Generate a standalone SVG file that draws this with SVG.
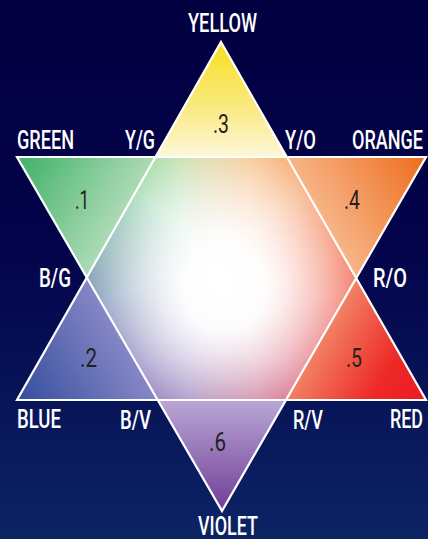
<svg xmlns="http://www.w3.org/2000/svg" width="428" height="539" viewBox="0 0 428 539">
<defs>
<style>
.lbl{font-family:Roboto,"Liberation Sans",sans-serif;font-size:25px;fill:#ffffff;font-weight:500}
.num{font-family:Roboto,"Liberation Sans",sans-serif;font-size:25px;fill:#231f20}
.edge{fill:none;stroke:#ffffff;stroke-width:2.2;stroke-linejoin:miter}
</style>
<linearGradient id="bg" x1="0" y1="0" x2="0" y2="1">
<stop offset="0" stop-color="#020040"/>
<stop offset="0.45" stop-color="#03034a"/>
<stop offset="1" stop-color="#0c2464"/>
</linearGradient>
<clipPath id="hexClip">
<polygon points="155.5,157 286.5,157 356,278 286.5,400 157.5,400 87,278"/>
</clipPath>
<linearGradient id="tY" gradientUnits="userSpaceOnUse" x1="221" y1="50" x2="221" y2="157">
<stop offset="0" stop-color="#f8e02c"/>
<stop offset="0.5" stop-color="#f9e97a"/>
<stop offset="1" stop-color="#fdf7da"/>
</linearGradient>
<linearGradient id="tG" gradientUnits="userSpaceOnUse" x1="22" y1="160" x2="128" y2="222">
<stop offset="0" stop-color="#44b36b"/>
<stop offset="1" stop-color="#b4ddbb"/>
</linearGradient>
<linearGradient id="tO" gradientUnits="userSpaceOnUse" x1="421" y1="160" x2="315" y2="222">
<stop offset="0" stop-color="#ee7021"/>
<stop offset="1" stop-color="#f7b98e"/>
</linearGradient>
<linearGradient id="tR" gradientUnits="userSpaceOnUse" x1="421" y1="397" x2="315" y2="335">
<stop offset="0" stop-color="#ec1c24"/>
<stop offset="0.35" stop-color="#ed2a27"/>
<stop offset="1" stop-color="#f38a6a"/>
</linearGradient>
<linearGradient id="tB" gradientUnits="userSpaceOnUse" x1="22" y1="397" x2="128" y2="335">
<stop offset="0" stop-color="#3850a0"/>
<stop offset="1" stop-color="#8a8ac8"/>
</linearGradient>
<linearGradient id="tV" gradientUnits="userSpaceOnUse" x1="222" y1="505" x2="222" y2="400">
<stop offset="0" stop-color="#74439a"/>
<stop offset="1" stop-color="#b9a7d5"/>
</linearGradient>
<radialGradient id="gY" gradientUnits="userSpaceOnUse" cx="221" cy="42" r="190">
<stop offset="0" stop-color="#f8e02a" stop-opacity="1"/>
<stop offset="0.6" stop-color="#f8e02a" stop-opacity="0.22"/>
<stop offset="1" stop-color="#f8e02a" stop-opacity="0"/>
</radialGradient>
<radialGradient id="gO" gradientUnits="userSpaceOnUse" cx="426" cy="157" r="250">
<stop offset="0" stop-color="#ef7020" stop-opacity="1"/>
<stop offset="0.5" stop-color="#ef7020" stop-opacity="0.55"/>
<stop offset="1" stop-color="#ef7020" stop-opacity="0"/>
</radialGradient>
<radialGradient id="gR" gradientUnits="userSpaceOnUse" cx="426" cy="400" r="240">
<stop offset="0" stop-color="#ec1c24" stop-opacity="1"/>
<stop offset="0.5" stop-color="#ec1c24" stop-opacity="0.5"/>
<stop offset="1" stop-color="#ec1c24" stop-opacity="0"/>
</radialGradient>
<radialGradient id="gV" gradientUnits="userSpaceOnUse" cx="222" cy="511" r="240">
<stop offset="0" stop-color="#74459a" stop-opacity="1"/>
<stop offset="0.46" stop-color="#74459a" stop-opacity="0.5"/>
<stop offset="1" stop-color="#74459a" stop-opacity="0"/>
</radialGradient>
<radialGradient id="gB" gradientUnits="userSpaceOnUse" cx="17" cy="400" r="240">
<stop offset="0" stop-color="#3a4fa2" stop-opacity="1"/>
<stop offset="0.5" stop-color="#4a56a8" stop-opacity="0.55"/>
<stop offset="1" stop-color="#5a5aaa" stop-opacity="0"/>
</radialGradient>
<radialGradient id="gG" gradientUnits="userSpaceOnUse" cx="17" cy="157" r="235">
<stop offset="0" stop-color="#3cb46a" stop-opacity="1"/>
<stop offset="0.5" stop-color="#3cb46a" stop-opacity="0.45"/>
<stop offset="1" stop-color="#3cb46a" stop-opacity="0"/>
</radialGradient>
<radialGradient id="gW" gradientUnits="userSpaceOnUse" cx="226" cy="288" r="140">
<stop offset="0" stop-color="#ffffff" stop-opacity="1"/>
<stop offset="0.3" stop-color="#ffffff" stop-opacity="0.95"/>
<stop offset="1" stop-color="#ffffff" stop-opacity="0"/>
</radialGradient>
</defs>
<rect width="428" height="539" fill="url(#bg)"/>
<g id="center-hexagon" clip-path="url(#hexClip)">
<rect x="0" y="0" width="428" height="539" fill="#ffffff"/>
<rect x="0" y="0" width="428" height="539" fill="url(#gY)"/>
<rect x="0" y="0" width="428" height="539" fill="url(#gG)"/>
<rect x="0" y="0" width="428" height="539" fill="url(#gB)"/>
<rect x="0" y="0" width="428" height="539" fill="url(#gV)"/>
<rect x="0" y="0" width="428" height="539" fill="url(#gO)"/>
<rect x="0" y="0" width="428" height="539" fill="url(#gR)"/>
<rect x="0" y="0" width="428" height="539" fill="url(#gW)"/>
</g>
<g id="tip-yellow"><polygon points="221,42 286.5,157 155.5,157" fill="url(#tY)"/></g>
<g id="tip-green"><polygon points="17,157 155.5,157 87,278" fill="url(#tG)"/></g>
<g id="tip-orange"><polygon points="286.5,157 426,157 356,278" fill="url(#tO)"/></g>
<g id="tip-red"><polygon points="356,278 426,400 286.5,400" fill="url(#tR)"/></g>
<g id="tip-blue"><polygon points="87,278 157.5,400 17,400" fill="url(#tB)"/></g>
<g id="tip-violet"><polygon points="157.5,400 286.5,400 222,511" fill="url(#tV)"/></g>
<g id="connectors">
<polygon class="edge" points="221,42 426,400 17,400"/>
<polygon class="edge" points="17,157 426,157 222,511"/>
</g>
<g id="yellow"><text class="lbl" x="188" y="32" textLength="69" lengthAdjust="spacingAndGlyphs">YELLOW</text><text class="num" x="213" y="133" textLength="16" lengthAdjust="spacingAndGlyphs">.3</text></g>
<g id="green"><text class="lbl" x="17" y="149" textLength="57" lengthAdjust="spacingAndGlyphs">GREEN</text><text class="num" x="75" y="209" textLength="14" lengthAdjust="spacingAndGlyphs">.1</text></g>
<g id="yg"><text class="lbl" x="125" y="149" textLength="30" lengthAdjust="spacingAndGlyphs">Y/G</text></g>
<g id="yo"><text class="lbl" x="285" y="149" textLength="31" lengthAdjust="spacingAndGlyphs">Y/O</text></g>
<g id="orange"><text class="lbl" x="352" y="149" textLength="71" lengthAdjust="spacingAndGlyphs">ORANGE</text><text class="num" x="344" y="209" textLength="16" lengthAdjust="spacingAndGlyphs">.4</text></g>
<g id="bg-node"><text class="lbl" x="39" y="287" textLength="32" lengthAdjust="spacingAndGlyphs">B/G</text></g>
<g id="ro"><text class="lbl" x="373" y="287" textLength="34" lengthAdjust="spacingAndGlyphs">R/O</text></g>
<g id="blue"><text class="lbl" x="17" y="428" textLength="44" lengthAdjust="spacingAndGlyphs">BLUE</text><text class="num" x="80" y="367" textLength="17" lengthAdjust="spacingAndGlyphs">.2</text></g>
<g id="bv"><text class="lbl" x="120" y="429" textLength="31" lengthAdjust="spacingAndGlyphs">B/V</text></g>
<g id="rv"><text class="lbl" x="293" y="429" textLength="30" lengthAdjust="spacingAndGlyphs">R/V</text></g>
<g id="red"><text class="lbl" x="390" y="428" textLength="33" lengthAdjust="spacingAndGlyphs">RED</text><text class="num" x="346" y="367" textLength="16" lengthAdjust="spacingAndGlyphs">.5</text></g>
<g id="violet"><text class="lbl" x="198" y="535" textLength="60" lengthAdjust="spacingAndGlyphs">VIOLET</text><text class="num" x="209" y="451" textLength="17" lengthAdjust="spacingAndGlyphs">.6</text></g>
</svg>
